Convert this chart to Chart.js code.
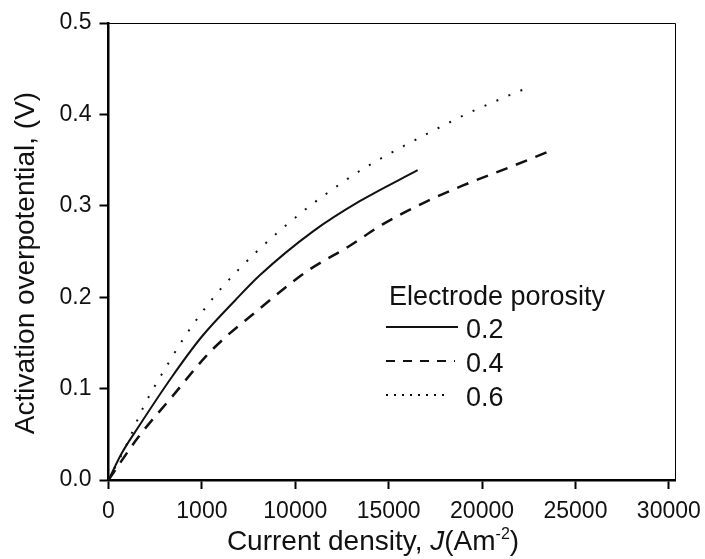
<!DOCTYPE html>
<html>
<head>
<meta charset="utf-8">
<script src="https://cdn.jsdelivr.net/npm/chart.js@4.4.1/dist/chart.umd.min.js"></script>
<style>
  html, body { margin: 0; padding: 0; background: #fff; }
  #wrap { width: 705px; height: 559px; }
</style>
</head>
<body>
<div id="wrap"><canvas id="overpotChart" width="705" height="559"></canvas></div>
<script>
// values
const porosities = ['0.2', '0.4', '0.6'];

const j02 = [0, 700, 1600, 3400, 5000, 6800, 8100, 10950, 13450, 16550];
const eta02 = [0, 0.029, 0.058, 0.113, 0.157, 0.197, 0.224, 0.272, 0.305, 0.339];

const j04 = [0, 1600, 3400, 5200, 6300, 7650, 10600, 12900, 14700, 16850, 18950, 21450, 23650];
const eta04 = [0, 0.047, 0.091, 0.135, 0.157, 0.180, 0.228, 0.256, 0.280, 0.303, 0.322, 0.342, 0.360];

const j06 = [0, 1000, 1850, 3300, 4090, 4985, 6050, 7890, 10420, 12340, 13590, 15500, 17460, 19330, 21240, 22540];
const eta06 = [0, 0.040, 0.079, 0.131, 0.157, 0.183, 0.210, 0.249, 0.294, 0.323, 0.340, 0.362, 0.383, 0.402, 0.419, 0.430];

const xTickValues = [0, 5000, 10000, 15000, 20000, 25000, 30000];
const xTickLabels = ['0', '1000', '10000', '15000', '20000', '25000', '30000'];
const yTickValues = [0, 0.1, 0.2, 0.3, 0.4, 0.5];
const yTickLabels = ['0.0', '0.1', '0.2', '0.3', '0.4', '0.5'];

const FONT = '"Liberation Sans", Arial, Helvetica, sans-serif';

function pts(xs, ys) {
  return xs.map((x, i) => ({ x: x, y: ys[i] }));
}

// frame on top/right, axis titles and the in-plot legend
const extras = {
  id: 'extras',
  afterDraw(chart) {
    const ctx = chart.ctx;
    const a = chart.chartArea;
    ctx.save();
    ctx.strokeStyle = '#000';
    ctx.lineWidth = 1;
    ctx.beginPath();
    ctx.moveTo(a.left, a.top + 0.5);
    ctx.lineTo(a.right + 0.5, a.top + 0.5);
    ctx.lineTo(a.right + 0.5, a.bottom);
    ctx.stroke();

    ctx.fillStyle = '#111';

    // y title
    ctx.save();
    ctx.translate(26, 263);
    ctx.rotate(-Math.PI / 2);
    ctx.textAlign = 'center';
    ctx.textBaseline = 'middle';
    ctx.font = '28px ' + FONT;
    ctx.fillText('Activation overpotential, (V)', 0, 0);
    ctx.restore();

    // x title with italic J and superscript
    const parts = [
      { t: 'Current density, ', f: '28px ' + FONT, dy: 0 },
      { t: 'J', f: 'italic 28px ' + FONT, dy: 0 },
      { t: '(Am', f: '28px ' + FONT, dy: 0 },
      { t: '-2', f: '16px ' + FONT, dy: -11 },
      { t: ')', f: '28px ' + FONT, dy: 0 }
    ];
    let total = 0;
    parts.forEach(p => { ctx.font = p.f; p.w = ctx.measureText(p.t).width; total += p.w; });
    let x = 373 - total / 2;
    ctx.textAlign = 'left';
    ctx.textBaseline = 'alphabetic';
    parts.forEach(p => {
      ctx.font = p.f;
      ctx.fillText(p.t, x, 550 + p.dy);
      x += p.w;
    });

    // legend
    ctx.font = '27px ' + FONT;
    ctx.fillText('Electrode porosity', 389, 305);
    const legendDash = [[], [9, 8], [2, 6]];
    const legendEnd = [458, 455, 449];
    chart.data.datasets.forEach((ds, i) => {
      const base = 338 + i * 34;
      const y = base - 11;
      ctx.save();
      ctx.strokeStyle = ds.borderColor;
      ctx.lineWidth = 2;
      ctx.setLineDash(legendDash[i]);
      ctx.beginPath();
      ctx.moveTo(386, y);
      ctx.lineTo(legendEnd[i], y);
      ctx.stroke();
      ctx.restore();
      ctx.fillText(ds.label, 466, base);
    });
    ctx.restore();
  }
};

const ctx = document.getElementById('overpotChart').getContext('2d');
new Chart(ctx, {
  type: 'line',
  data: {
    datasets: [
      {
        label: porosities[0],
        data: pts(j02, eta02),
        borderColor: '#111',
        borderWidth: 2,
        pointRadius: 0,
        cubicInterpolationMode: 'monotone'
      },
      {
        label: porosities[1],
        data: pts(j04, eta04),
        borderColor: '#111',
        borderWidth: 2.5,
        borderDash: [12, 9],
        pointRadius: 0,
        cubicInterpolationMode: 'monotone'
      },
      {
        label: porosities[2],
        data: pts(j06, eta06),
        borderColor: '#111',
        borderWidth: 2,
        borderDash: [2, 11],
        pointRadius: 0,
        cubicInterpolationMode: 'monotone'
      }
    ]
  },
  options: {
    responsive: false,
    animation: false,
    layout: { padding: { left: 0, top: 23, right: 30, bottom: 0 } },
    plugins: {
      legend: { display: false },
      tooltip: { enabled: false }
    },
    scales: {
      x: {
        type: 'linear',
        min: 0,
        max: 30330,
        afterBuildTicks: s => { s.ticks = xTickValues.map(v => ({ value: v })); },
        afterFit: s => { s.height = 79; s.paddingLeft = 0; s.paddingRight = 0; },
        ticks: {
          autoSkip: false,
          maxRotation: 0,
          padding: 9,
          color: '#111',
          font: { family: FONT, size: 23 },
          callback: (v) => xTickLabels[xTickValues.indexOf(v)]
        },
        grid: {
          drawOnChartArea: false,
          drawTicks: true,
          tickLength: 9,
          tickWidth: 2,
          tickColor: '#000'
        },
        border: { display: true, color: '#000', width: 2.5 }
      },
      y: {
        type: 'linear',
        min: 0,
        max: 0.5,
        afterBuildTicks: s => { s.ticks = yTickValues.map(v => ({ value: v })); },
        afterFit: s => { s.width = 108.5; s.paddingTop = 0; s.paddingBottom = 0; },
        ticks: {
          autoSkip: false,
          padding: 8,
          color: '#111',
          font: { family: FONT, size: 23 },
          callback: (v) => yTickLabels[yTickValues.indexOf(v)]
        },
        grid: {
          drawOnChartArea: false,
          drawTicks: true,
          tickLength: 9,
          tickWidth: 2,
          tickColor: '#000'
        },
        border: { display: true, color: '#000', width: 2.5 }
      }
    }
  },
  plugins: [extras]
});
</script>
</body>
</html>
